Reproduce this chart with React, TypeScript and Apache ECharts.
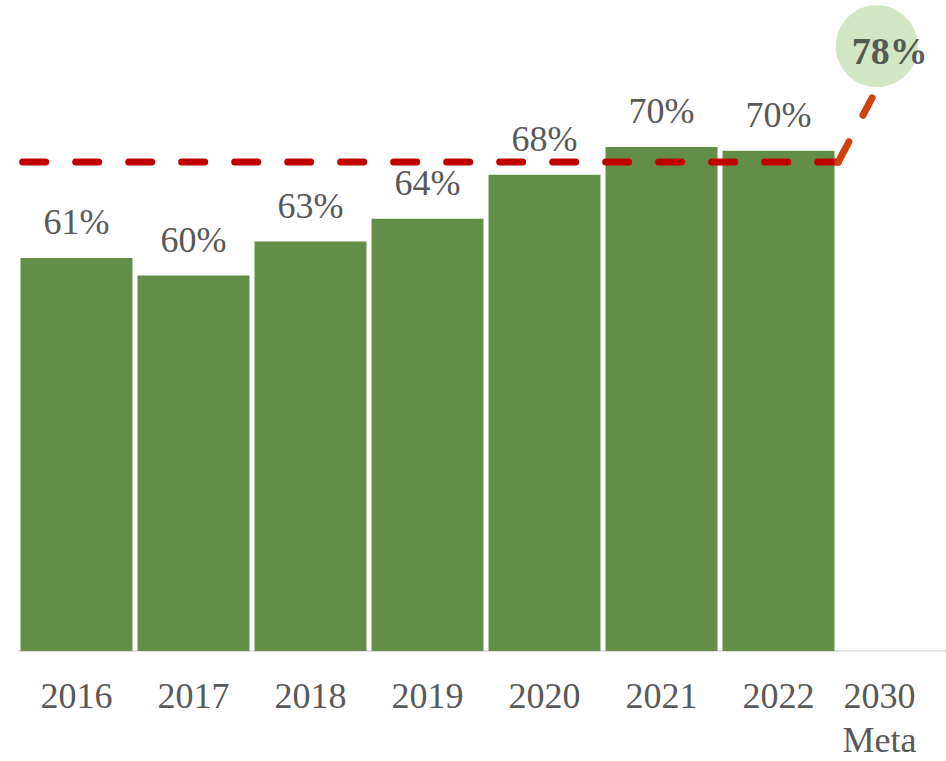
import React, { useEffect, useRef } from "react";
import * as echarts from "echarts";

const categories = ["2016", "2017", "2018", "2019", "2020", "2021", "2022", "2030"];
const lastSubLabel = "Meta";
const values = [61.2, 59.8, 62.5, 64.3, 67.8, 70.0, 69.7];
const targetLevel = 68.8;
const goalValue = 78;
const goalPosition = 7.34; // on hidden value x-axis (category units)
const lineStartX = 0.04;
const lineEndX = 7.01;
const diagEnd = [7.3, 73.9];

const FONT = '"Liberation Serif", "Times New Roman", serif';

export default function App() {
  const ref = useRef<HTMLDivElement>(null);
  useEffect(() => {
    document.body.style.margin = "0";
    const chart = echarts.init(ref.current!, null, { renderer: "svg" });
    const lastIdx = categories.length - 1;
    chart.setOption({
      animation: false,
      grid: {
        left: 18,
        top: 21,
        width: 936,
        bottom: 110,
        containLabel: false,
        outerBoundsMode: "none",
      },
      xAxis: [
        {
          type: "category",
          data: categories,
          axisLine: { lineStyle: { color: "#d9d9d9", width: 1.5 } },
          axisTick: { show: false },
          axisLabel: {
            interval: 0,
            margin: 20,
            color: "#595959",
            fontFamily: FONT,
            fontSize: 36,
            lineHeight: 49,
            formatter: (v: string, i: number) =>
              i === lastIdx ? `{m|${v}}\n{n|${lastSubLabel}}` : v,
            rich: {
              m: {
                color: "#595959",
                fontFamily: FONT,
                fontSize: 36,
                lineHeight: 49,
                padding: [0, 32, 0, 0],
              },
              n: {
                color: "#595959",
                fontFamily: FONT,
                fontSize: 36,
                lineHeight: 40,
                padding: [0, 32, 0, 0],
              },
            },
          },
        },
        { type: "value", min: 0, max: 8, show: false },
      ],
      yAxis: { type: "value", min: 30, max: 80, show: false },
      series: [
        {
          type: "bar",
          data: values,
          barCategoryGap: "4.3%",
          itemStyle: { color: "#638e48" },
          label: {
            show: true,
            position: "top",
            distance: 18,
            color: "#595959",
            fontFamily: FONT,
            fontSize: 36,
            lineHeight: 36,
            formatter: (p: any) => `${Math.round(p.value)}%`,
          },
        },
        {
          type: "line",
          xAxisIndex: 1,
          data: [
            [lineStartX, targetLevel],
            [lineEndX, targetLevel],
          ],
          symbol: "none",
          lineStyle: { color: "#c00000", width: 7, type: [23, 30], cap: "round" },
          z: 5,
        },
        {
          type: "line",
          xAxisIndex: 1,
          data: [[lineEndX, targetLevel], diagEnd],
          symbol: "none",
          lineStyle: { color: "#d2410c", width: 7, type: [23, 30], cap: "round" },
          z: 5,
        },
        {
          type: "scatter",
          xAxisIndex: 1,
          clip: false,
          data: [[goalPosition, goalValue]],
          symbol: "circle",
          symbolSize: 82,
          itemStyle: { color: "#c5e0b4" },
          label: {
            show: true,
            position: "inside",
            offset: [13, 5],
            formatter: `${goalValue}%`,
            color: "#333333",
            fontFamily: FONT,
            fontWeight: "bold",
            fontSize: 38,
          },
          z: 6,
        },
      ],
    });
    return () => chart.dispose();
  }, []);
  return (
    <div
      ref={ref}
      style={{
        position: "absolute",
        left: 0,
        top: 0,
        width: 946,
        height: 761,
        overflow: "hidden",
      }}
    />
  );
}
